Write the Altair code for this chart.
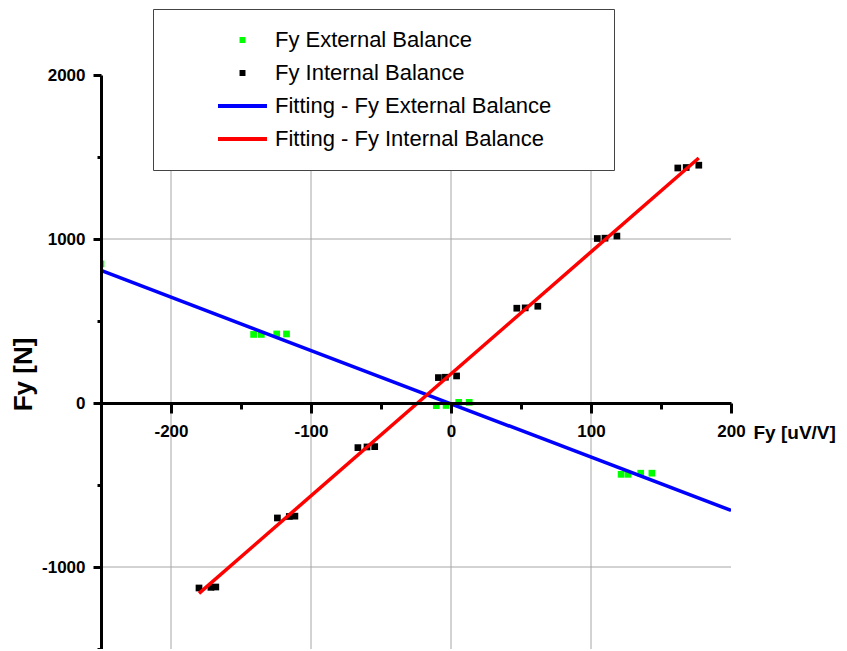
import altair as alt
import pandas as pd

# ---------------- data ----------------
ext_x = [-250, -141, -135.5, -124.5, -117.5, -10.5, -3.5, 5.5, 13, 121.5, 126.5, 135.5, 143.5]
ext_y = [848, 418, 418, 421, 421, -16, -15, 4, 4, -435, -435, -428, -428]

int_x = [-180, -171.5, -168, -124, -115.5, -111.5, -66.5, -60, -54.5, -9, -4, 4,
         47, 53, 62, 104.5, 110, 118.5, 162, 168, 177]
int_y = [-1128, -1124, -1122, -701, -692, -690, -272, -268, -266, 155, 157, 165,
         578, 580, 590, 1003, 1005, 1018, 1433, 1436, 1450]

fit_ext_x = [-250, 200]
fit_ext_y = [808, -655]
fit_int_x = [-180, 177]
fit_int_y = [-1161, 1494]

series_names = ["Fy External Balance", "Fy Internal Balance",
                "Fitting - Fy External Balance", "Fitting - Fy Internal Balance"]
series_colors = ["#00ff00", "#000000", "#0000ff", "#ff0000"]

x_ticks = [-200, -150, -100, -50, 0, 50, 100, 150, 200]
y_ticks = [-1500, -1000, -500, 0, 500, 1000, 1500, 2000]
grid_x = [-200, -100, 0, 100]
grid_y = [-1000, 1000]

# ---------------- tables ----------------
pts = pd.DataFrame({
    "x": ext_x + int_x,
    "y": ext_y + int_y,
    "series": [series_names[0]] * len(ext_x) + [series_names[1]] * len(int_x),
})
fits = pd.DataFrame({
    "x": fit_ext_x + fit_int_x,
    "y": fit_ext_y + fit_int_y,
    "series": [series_names[2]] * 2 + [series_names[3]] * 2,
})
gx = pd.DataFrame({"x": grid_x})
gy = pd.DataFrame({"y": grid_y})

W, H = 630, 574
X_DOM = [-250, 200]
Y_DOM = [-1500, 2000]

SANS = "Liberation Sans, Arial, sans-serif"

xscale = alt.Scale(domain=X_DOM, nice=False, zero=False)
yscale = alt.Scale(domain=Y_DOM, nice=False, zero=False)

maj_x = "datum.value % 100 === 0"
maj_y = "datum.value % 1000 === 0"

x_axis = alt.Axis(
    values=x_ticks,
    labelExpr=f"{maj_x} ? '' + datum.value : ''",
    tickSize={"condition": {"test": maj_x, "value": 10}, "value": 6},
    tickWidth=3, tickColor="black",
    domainColor="black", domainWidth=3,
    grid=False, labelOverlap=False, labelFlush=False,
    labelFont=SANS, labelFontSize=17, labelFontWeight="bold", labelColor="black",
    labelPadding=10,
    offset=-round(H * 1500 / 3500), zindex=1,
    title="Fy [uV/V]", titleX=652, titleY=35, titleAlign="left",
    titleBaseline="alphabetic", titleAngle=0,
    titleFont=SANS, titleFontSize=19, titleFontWeight="bold", titleColor="black",
)
y_axis = alt.Axis(
    values=y_ticks,
    labelExpr=f"{maj_y} ? '' + datum.value : ''",
    tickSize={"condition": {"test": maj_y, "value": 8}, "value": 4},
    tickWidth=3, tickColor="black",
    domainColor="black", domainWidth=3,
    grid=False, labelOverlap=False, labelFlush=False,
    labelFont=SANS, labelFontSize=17, labelFontWeight="bold", labelColor="black",
    labelPadding=8, zindex=1,
    title="Fy [N]", titleX=-78, titleY=299, titleAngle=270,
    titleAlign="center", titleBaseline="middle",
    titleFont=SANS, titleFontSize=26, titleFontWeight="bold", titleColor="black",
)

X = alt.X("x:Q", scale=xscale, axis=x_axis)
Y = alt.Y("y:Q", scale=yscale, axis=y_axis)

# colour scale of the drawn marks (listed in reverse order so that it stays
# separate from the legend's scales)
color_scale = alt.Scale(domain=series_names[::-1], range=series_colors[::-1])

# legend symbols: small square for the data, long stroke for the fits
SQUARE_PATH = "M-0.16,-0.16H0.16V0.16H-0.16Z"
LINE_PATH = "M-4,0H4"
legend_shapes = [SQUARE_PATH, SQUARE_PATH, LINE_PATH, LINE_PATH]

legend = alt.Legend(
    title="\u00a0", titleOrient="right", titlePadding=43, titleFontSize=1,
    orient="none", legendX=52, legendY=-66, direction="vertical",
    padding=20, rowPadding=11, symbolSize=150, symbolStrokeWidth=4,
    symbolOffset=58.5, labelOffset=21.5, symbolOpacity=1,
    labelFont=SANS, labelFontSize=22, labelColor="black", labelLimit=700,
    fillColor="white", strokeColor="#444444",
)

vgrid = alt.Chart(gx).mark_rule(color="#a6a6a6", strokeWidth=1).encode(x=X)
hgrid = alt.Chart(gy).mark_rule(color="#a6a6a6", strokeWidth=1).encode(y=Y)

points = alt.Chart(pts).mark_square(size=45, opacity=1, clip=True).encode(
    x=X, y=Y, color=alt.Color("series:N", scale=color_scale, legend=None))

lines = alt.Chart(fits).mark_line(strokeWidth=3.5, clip=True).encode(
    x=X, y=Y, color=alt.Color("series:N", scale=color_scale, legend=None))

# invisible layer that only carries the legend
legend_layer = alt.Chart(fits).mark_point(opacity=0, filled=True).encode(
    x=X, y=Y,
    fill=alt.Fill("series:N", scale=alt.Scale(domain=series_names, range=series_colors),
                  legend=legend),
    stroke=alt.Stroke("series:N", scale=alt.Scale(domain=series_names, range=series_colors),
                      legend=legend),
    shape=alt.Shape("series:N", scale=alt.Scale(domain=series_names, range=legend_shapes),
                    legend=legend),
)

chart = alt.layer(vgrid, hgrid, points, lines, legend_layer).properties(
    width=W, height=H,
    autosize=alt.AutoSizeParams(type="none"),
    padding={"left": 93, "top": 67, "right": 108, "bottom": 0},
    background="white",
).configure_view(stroke=None)

chart.save("out.html", embed_options={"renderer": "svg", "actions": False})
